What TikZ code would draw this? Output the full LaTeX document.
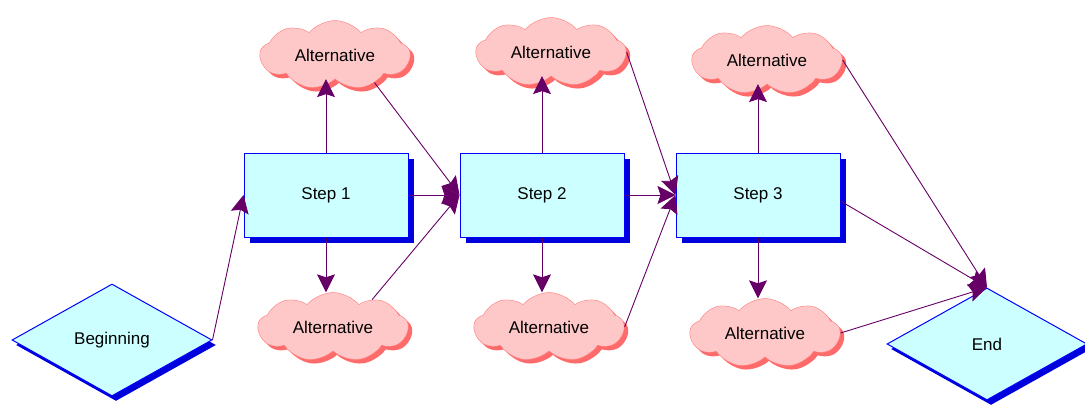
\documentclass[tikz,border=0pt]{standalone}
\usepackage{fontspec}
\setmainfont{Liberation Sans}
\usetikzlibrary{shapes.geometric,shapes.symbols,shadows,arrows.meta}

\definecolor{boxfill}{HTML}{CCFFFF}
\definecolor{boxline}{HTML}{0000FF}
\definecolor{boxshade}{HTML}{0000DD}
\definecolor{altfill}{HTML}{FFC8C8}
\definecolor{altline}{HTML}{FF7A7A}
\definecolor{altshade}{HTML}{FF6A6A}
\definecolor{linkcol}{HTML}{660066}

\tikzstyle{stepbox}=[draw=boxline, line width=1pt, fill=boxfill,
  minimum width=164pt, minimum height=84pt, inner sep=0pt,
  font=\fontsize{17}{19}\selectfont,
  drop shadow={shadow xshift=6pt, shadow yshift=-6pt, fill=boxshade, opacity=1}]
\tikzstyle{alt}=[cloud, cloud puffs=9, cloud puff arc=100, aspect=2.1,
  draw=altline, fill=altfill, minimum width=150pt, minimum height=68pt,
  inner sep=0pt, font=\fontsize{17}{19}\selectfont,
  drop shadow={shadow xshift=4pt, shadow yshift=-4pt, fill=altshade, opacity=1}]
\tikzstyle{terminal}=[diamond, aspect=1.75, draw=boxline, line width=1pt,
  fill=boxfill, minimum width=200pt, minimum height=112pt, inner sep=0pt,
  font=\fontsize{17}{19}\selectfont,
  drop shadow={shadow xshift=4pt, shadow yshift=-5pt, fill=boxshade, opacity=1}]
\tikzstyle{link}=[draw=linkcol, line width=0.9pt,
  -{Stealth[length=18pt, width=18pt, inset=3pt, fill=linkcol]}]

\begin{document}
\begin{tikzpicture}[x=1pt, y=-1pt]
\useasboundingbox (0,0) rectangle (1085,407);
%
\draw (112,340) node[terminal](begin){Beginning};
\draw (987,344) node[terminal](end){End};
%
\foreach \x/\n/\t/\b in {326/1/55/327, 542/2/52/327, 758/3/60/333}{
  \draw (\x+9,\t) node[alt](ct\n){Alternative};
  \draw (\x+7,\b) node[alt](cb\n){Alternative};
  \draw (\x,195) node[stepbox](s\n){Step \n};
  \draw[link] (s\n.north) -- (s\n.north |- ct\n.south);
  \draw[link] (s\n.south) -- (s\n.south |- cb\n.north);
}
%
\draw[link] (begin.east) -- (s1.west);
\draw[link] (ct1.-35) -- (s2.west);
\draw[link] (s1.east) -- (s2.west);
\draw[link] (cb1.35) -- (s2.west);
\draw[link] (ct2.east) -- (s3.west);
\draw[link] (s2.east) -- (s3.west);
\draw[link] (cb2.east) -- (s3.west);
% Everything meets at the top of End
\draw[link] (ct3.east) -- (end.north);
\draw[link] ([yshift=-6pt]s3.east) -- (end.north);
\draw[link] (cb3.east) -- (end.north);
\end{tikzpicture}
\end{document}
